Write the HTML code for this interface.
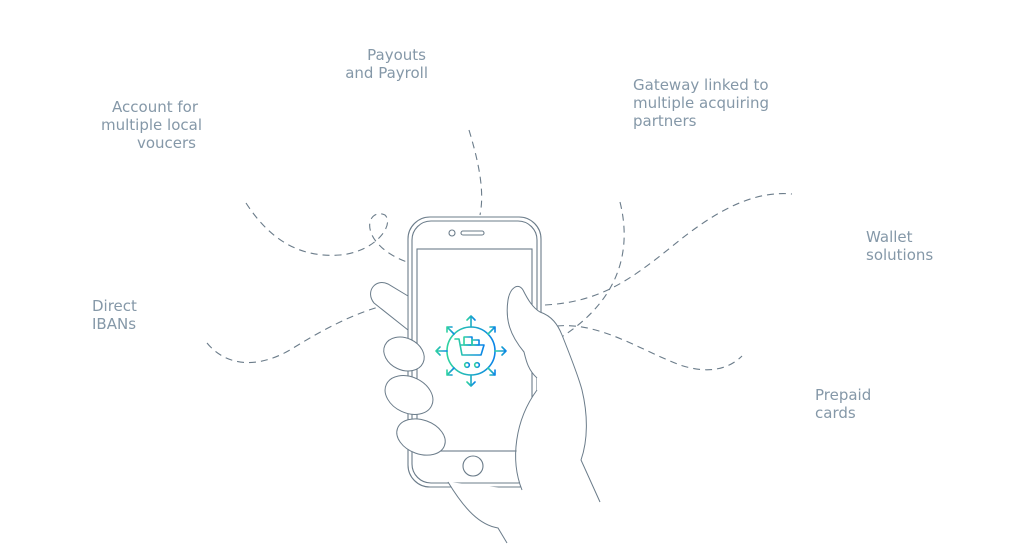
<!DOCTYPE html>
<html><head><meta charset="utf-8"><style>
html,body{margin:0;padding:0;background:#fff;width:1019px;height:552px;overflow:hidden}
text{font-family:"DejaVu Sans","Liberation Sans",sans-serif;font-size:15px;fill:#8598a8}
</style></head><body>
<svg width="1019" height="552" viewBox="0 0 1019 552" xmlns="http://www.w3.org/2000/svg">
<defs>
<linearGradient id="g" x1="0" y1="0" x2="1" y2="0">
<stop offset="0" stop-color="#2fd3a0"/><stop offset="1" stop-color="#0a84e8"/>
</linearGradient>
</defs>
<text x="426" y="60" text-anchor="end">Payouts</text>
<text x="428" y="78" text-anchor="end">and Payroll</text>
<text x="198" y="112" text-anchor="end">Account for</text>
<text x="202" y="130" text-anchor="end">multiple local</text>
<text x="196" y="148" text-anchor="end">voucers</text>
<text x="633" y="90">Gateway linked to</text>
<text x="633" y="108">multiple acquiring</text>
<text x="633" y="126">partners</text>
<text x="866" y="242">Wallet</text>
<text x="866" y="260">solutions</text>
<text x="92" y="311">Direct</text>
<text x="92" y="329">IBANs</text>
<text x="815" y="400">Prepaid</text>
<text x="815" y="418">cards</text>

<g fill="none" stroke="#6b7c8a" stroke-width="1.1" stroke-dasharray="7 5">
<path d="M246,203 C270,240 300,258 340,255 C375,252 395,225 385,215 C375,210 365,220 372,235 C378,248 395,258 407,262"/>
<path d="M469,130 C478,160 485,190 480,215"/>
<path d="M620,202 C632,250 620,300 560,338"/>
<path d="M545,305 C600,302 630,280 670,248 C710,215 750,190 792,194"/>
<path d="M557,326 C600,322 640,350 680,365 C710,375 730,368 742,356"/>
<path d="M207,343 C225,365 255,370 290,350 C330,325 370,305 405,302"/>
</g>

<g fill="#fff" stroke="#6b7c8a" stroke-width="1.1">
<rect x="408" y="217" width="133" height="270" rx="22"/>
<rect x="412" y="221" width="125" height="262" rx="19"/>
<rect x="417" y="249" width="115" height="202"/>
<circle cx="473" cy="466" r="10"/>
<circle cx="452" cy="233" r="3"/>
<rect x="461" y="231" width="23" height="4" rx="2"/>
</g>

<g fill="none" stroke="url(#g)" stroke-width="1.6" stroke-linecap="round" stroke-linejoin="round">
<circle cx="471" cy="351" r="24"/>
<path d="M471,327 V316 M467,320 L471,316 L475,320"/>
<path d="M471,375 V386 M467,382 L471,386 L475,382"/>
<path d="M447,351 H436 M440,347 L436,351 L440,355"/>
<path d="M495,351 H506 M502,347 L506,351 L502,355"/>
<path d="M488,334 L495,327 M490,327 H495 V332"/>
<path d="M454,334 L447,327 M452,327 H447 V332"/>
<path d="M488,368 L495,375 M490,375 H495 V370"/>
<path d="M454,368 L447,375 M452,375 H447 V370"/>
<path d="M455,339 H459 L462,355 H481 L484,345 H460"/>
<rect x="464" y="337" width="8" height="8"/>
<rect x="472" y="340" width="7" height="5"/>
<circle cx="467" cy="365" r="2.3"/><circle cx="477" cy="365" r="2.3"/>
</g>

<g fill="#fff" stroke="#6b7c8a" stroke-width="1">
<path d="M408,296 L388,284 C375,278 365,292 374,303 L408,330 Z"/>
<ellipse cx="404" cy="354" rx="21" ry="16" transform="rotate(25 404 354)"/>
<ellipse cx="409" cy="395" rx="25" ry="18" transform="rotate(25 409 395)"/>
<ellipse cx="421" cy="437" rx="25" ry="17" transform="rotate(20 421 437)"/>
<path d="M537,378 C528,370 526,360 524,352 C510,335 505,320 508,300 C510,288 518,282 523,290 C528,300 533,308 540,312 C552,316 558,325 562,335 C570,355 578,375 582,390 C588,415 588,440 581,460 L600,502 L600,552 L507,552 L507,543 L498,528 C480,525 465,510 448,482 L522,490 C512,460 515,420 537,390 Z" stroke="none"/>
<path d="M537,378 C528,370 526,360 524,352 C510,335 505,320 508,300 C510,288 518,282 523,290 C528,300 533,308 540,312 C552,316 558,325 562,335 C570,355 578,375 582,390 C588,415 588,440 581,460 L600,502" fill="none"/>
<path d="M537,390 C515,420 510,460 522,490" fill="none"/>
<path d="M448,482 C465,510 480,525 498,528 L507,543" fill="none"/>
</g>
</svg>
</body></html>
